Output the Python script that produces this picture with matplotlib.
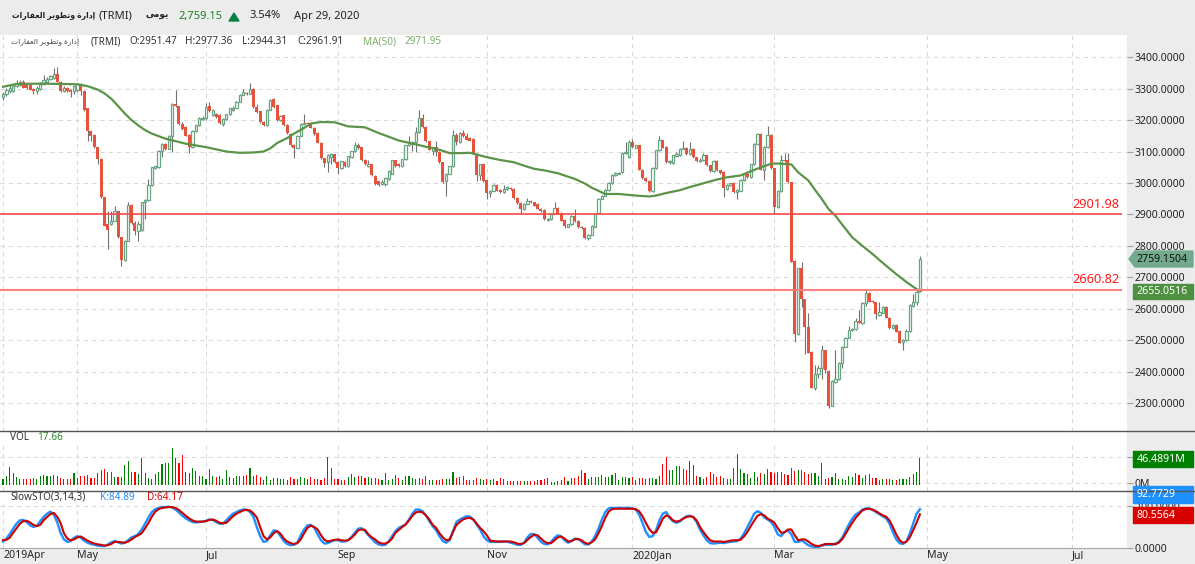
import matplotlib
matplotlib.use("Agg")
import matplotlib.pyplot as plt
from matplotlib.patches import Rectangle, Polygon

plt.rcParams['font.family'] = ['Noto Sans', 'DejaVu Sans']

# OHLC, one value per session
opens = [3272,3284,3293,3293,3308,3311,3322,3314,3311,3300,3293,3300,3316,3322,3331,3335,3346,3322,3293,3303,
         3297,3293,3297,3314,3293,3237,3165,3154,3114,3077,2955,2868,2868,2880,2912,2827,2755,2817,2931,2873,
         2846,2849,2939,2946,2992,3048,3050,3101,3125,3109,3151,3250,3244,3187,3178,3154,3114,3165,3183,3204,
         3208,3244,3215,3221,3215,3187,3203,3218,3231,3240,3258,3281,3286,3284,3300,3242,3228,3194,3183,3233,
         3267,3247,3199,3215,3185,3157,3122,3112,3151,3187,3191,3191,3176,3159,3128,3079,3066,3082,3091,3067,
         3047,3067,3054,3082,3101,3120,3114,3074,3054,3059,3022,3005,2996,2997,3013,3029,3072,3061,
         3054,3075,3120,3123,3130,3162,3208,3178,3133,3102,3114,3099,3066,3006,3029,3053,3154,3130,3160,3151,
         3144,3141,3093,3024,3059,3008,2969,2976,2994,2979,2971,2981,2985,2981,2953,2937,2916,2934,2944,2939,
         2934,2918,2914,2883,2885,2902,2921,2905,2882,2861,2868,2896,2880,2861,2857,2824,2835,2861,2904,2950,
         2960,2978,3000,3024,3029,3035,3095,3082,3130,3112,3120,3042,3016,3006,2974,3048,3104,3136,3116,3066,
         3063,3086,3088,3109,3112,3091,3109,3082,3070,3072,3088,3056,3037,3070,3040,3035,2981,2992,3000,2971,
         2976,3008,3029,3019,3059,3125,3157,3042,3114,3154,3047,2923,2974,3074,3072,
         3002,2753,2519,2729,2630,2542,2462,2349,2391,2410,2468,2402,2292,2368,2375,2428,2479,2508,2532,2535,
         2561,2554,2618,2651,2625,2621,2579,2588,2606,2572,2538,2548,2529,2493,2500,2529,2609,2620,2657]
closes = [3284,3297,3303,3308,3316,3322,3303,3303,3297,3293,3303,3316,3327,3332,3340,3346,3322,3293,3303,3293,
          3290,3308,3314,3293,3233,3165,3151,3114,3077,2955,2864,2851,2880,2912,2827,2756,2817,2931,2872,2846,
          2870,2939,2946,2995,3050,3053,3101,3125,3107,3151,3250,3244,3187,3173,3151,3114,3165,3183,3208,3208,
          3242,3228,3231,3210,3191,3205,3218,3237,3240,3258,3281,3290,3282,3300,3242,3226,3194,3183,3233,3265,
          3242,3199,3213,3183,3159,3120,3112,3151,3189,3191,3187,3176,3155,3128,3079,3064,3088,3093,3066,3047,
          3069,3054,3085,3101,3120,3111,3072,3059,3061,3024,2997,2995,3003,3016,3038,3072,3054,3053,
          3075,3120,3130,3130,3162,3208,3178,3133,3106,3114,3098,3066,3003,3029,3053,3154,3130,3160,3148,3138,
          3135,3093,3024,3059,3006,2968,2976,2994,2976,2971,2981,2987,2981,2952,2936,2916,2934,2942,2939,2928,
          2918,2910,2885,2885,2902,2921,2902,2880,2864,2868,2896,2878,2859,2856,2824,2836,2864,2904,2950,2960,
          2978,3000,3024,3031,3032,3096,3098,3130,3114,3120,3042,3015,3006,2974,3048,3104,3136,3112,3066,3070,
          3088,3093,3109,3112,3091,3109,3082,3070,3074,3088,3056,3038,3070,3040,3032,2985,2994,2999,2971,2978,
          3010,3029,3019,3059,3125,3157,3042,3116,3154,3047,2923,2976,3074,3070,3003,
          2750,2519,2729,2630,2543,2460,2349,2391,2412,2468,2404,2292,2370,2375,2428,2479,2508,2533,2535,2561,
          2556,2618,2651,2623,2620,2583,2590,2606,2572,2538,2548,2527,2492,2501,2529,2612,2620,2652,2759]
highs = [3290,3303,3311,3314,3329,3326,3326,3318,3314,3303,3308,3320,3343,3336,3343,3366,3369,3325,3308,3306,
         3300,3312,3318,3318,3296,3238,3167,3156,3116,3078,2956,2912,2912,2928,2914,2828,2819,2941,2933,2880,
         2878,2941,2948,3013,3052,3055,3105,3127,3128,3153,3254,3295,3246,3195,3180,3156,3167,3185,3210,3212,
         3255,3257,3234,3224,3218,3208,3220,3240,3244,3260,3283,3300,3290,3319,3302,3250,3230,3196,3235,3268,
         3270,3249,3215,3217,3187,3159,3124,3153,3191,3218,3195,3193,3178,3161,3130,3081,3092,3096,3093,3069,
         3071,3069,3087,3103,3130,3128,3116,3076,3073,3061,3024,3007,3010,3018,3040,3074,3074,3063,
         3077,3122,3151,3133,3178,3233,3218,3180,3135,3116,3133,3101,3068,3031,3055,3170,3160,3163,3170,3160,
         3147,3143,3095,3061,3061,3010,2979,2996,2996,2981,2995,2990,2988,2983,2955,2939,2936,2953,2947,2941,
         2936,2920,2916,2888,2905,2939,2923,2907,2884,2870,2898,2918,2882,2863,2859,2838,2866,2906,2952,2962,
         2980,3002,3030,3036,3036,3098,3130,3136,3141,3122,3122,3044,3018,3008,3050,3106,3151,3138,3118,3072,
         3090,3100,3111,3135,3114,3130,3111,3084,3078,3095,3090,3058,3072,3072,3042,3037,2996,3001,3002,2980,
         3012,3033,3031,3061,3127,3160,3159,3118,3180,3156,3049,2978,3090,3095,3096,
         3004,2755,2731,2749,2632,2587,2464,2420,2420,2485,2470,2404,2372,2469,2430,2481,2510,2545,2540,2570,
         2595,2620,2660,2653,2627,2623,2620,2608,2608,2574,2552,2550,2531,2503,2535,2614,2646,2665,2769]
lows = [3265,3278,3286,3288,3304,3308,3301,3300,3295,3282,3282,3297,3312,3318,3329,3332,3320,3290,3290,3290,
        3274,3284,3290,3279,3230,3134,3135,3112,3060,2953,2862,2790,2866,2878,2825,2737,2753,2815,2870,2835,
        2817,2847,2885,2944,2990,3046,3048,3082,3105,3107,3100,3242,3185,3170,3149,3095,3112,3163,3181,3200,
        3200,3226,3212,3208,3189,3180,3200,3216,3229,3238,3256,3279,3280,3282,3240,3224,3192,3181,3181,3231,
        3240,3197,3197,3181,3157,3118,3079,3110,3149,3185,3185,3174,3153,3126,3077,3050,3035,3060,3064,3029,
        3045,3052,3052,3080,3099,3109,3070,3057,3052,3022,2995,2990,2994,2990,3011,3027,3052,3051,
        3052,3073,3118,3102,3099,3160,3176,3131,3104,3090,3085,3064,3001,2960,3027,3051,3120,3128,3146,3136,
        3133,3091,3005,3008,3004,2950,2955,2974,2974,2969,2969,2979,2979,2950,2934,2900,2914,2932,2937,2926,
        2916,2908,2883,2880,2883,2900,2900,2878,2856,2859,2866,2876,2857,2854,2822,2818,2833,2859,2902,2948,
        2958,2976,2998,3022,3027,3033,3093,3080,3112,3110,3040,3013,3004,2972,2972,3046,3102,3110,3064,3060,
        3061,3084,3086,3107,3089,3089,3080,3068,3068,3070,3054,3036,3035,3038,3030,2957,2979,2990,2969,2950,
        2974,3006,3017,3017,3057,3123,3040,3010,3112,3045,2900,2921,2972,3068,3001,
        2748,2495,2517,2604,2455,2458,2347,2342,2380,2375,2395,2283,2290,2365,2373,2410,2477,2506,2530,2533,
        2554,2550,2610,2621,2618,2568,2577,2586,2570,2536,2536,2525,2490,2468,2498,2527,2607,2611,2655]

volume = [10.7,14.9,31,20.9,13.1,10.7,10.1,9.5,10.7,11.9,9.5,16.1,17.3,16.1,16.1,17.3,14.9,11.9,10.7,9.5,
          9.5,20.9,11.9,16.1,16.1,17.3,11.9,11.9,20.9,26.8,28,22.6,22.6,14.3,13.1,14.3,34.6,42.3,22,22.6,
          17.9,47.7,19.7,11.9,10.7,17.9,22.6,35.8,38.7,38.7,65.6,46.5,38.7,53,22.6,20.9,29.8,23.8,14.9,14.9,
          10.7,28.6,14.9,13.1,14.9,10.7,26.8,13.7,11.9,14.9,14.9,14.9,17.3,29.8,16.1,17.3,13.1,8.3,14.9,8.3,
          11.9,11.9,9.5,9.5,8.3,13.1,10.7,9.5,13.1,11.9,9.5,13.1,10.7,9.5,8.3,11.9,50,29.8,9.5,9.5,
          8.3,8.3,13.1,17.9,13.1,14.9,14.9,11.9,13.1,11.9,11.9,10.7,8.3,20.9,8.3,9.5,17.3,11.9,8.3,14.9,
          16.1,11.9,10.7,11.9,9.5,14.9,8.3,7.2,8.3,8.3,10.7,9.5,10.7,22.6,11.9,13.1,14.9,8.3,7.2,8.3,11.9,9.5,
          8.9,10.7,8.3,9.5,6,11.9,9.5,6.6,6.6,6.6,6.6,6.6,6.6,6.6,6.6,6.6,7.2,8.3,10.7,11.9,
          4.8,4.8,6.6,8.3,14.3,6.6,11.9,11.9,16.1,26.8,19.7,9.5,14.3,14.3,13.1,17.3,13.1,14.3,17.3,20.9,
          8.3,14.3,14.3,11.9,14.3,8.3,11.9,11.9,9.5,11.9,11.9,10.7,16.1,35.8,48.3,26.8,26.8,32.2,32.2,28.6,
          26.2,42.9,34,16.1,14.3,10.7,14.3,21.5,19.1,13.1,14.9,11.9,9.5,9.5,29.8,54.8,28,19.7,17.9,11.9,
          22.6,14.3,20.9,19.1,28,22.6,19.7,22.6,22.6,19.1,17.3,29.8,25,26.2,26.8,22.6,19.1,19.7,20.9,16.1,
          38.7,10.7,11.9,14.3,20.9,10.1,10.1,8.3,16.1,14.3,20.9,17.3,11.9,17.3,17.9,11.9,11.9,8.3,10.7,10.7,
          10.1,8.3,7.2,10.1,10.7,10.1,14.3,19.1,21.5,46.49]

sto_k = [15,22,33,46,58,66,67,62,54,50,53,64,74,82,87,80,62,36,20,14,16,24,28,24,17,12,9,7,5,4,
         4,8,13,16,13,10,12,18,25,28,33,44,58,73,86,93,96,98,98,99,97,92,85,77,71,66,62,61,62,63,
         65,68,67,62,58,58,66,75,82,86,90,92,92,86,75,50,28,14,16,30,42,40,28,16,9,6,7,12,30,44,
         54,55,48,32,18,10,11,15,18,18,15,15,18,26,36,46,47,40,30,22,13,8,6,7,15,28,40,48,52,56,
         68,82,92,92,88,78,64,52,42,28,16,12,18,40,62,68,72,76,75,68,56,44,
         28,18,14,14,14,14,15,15,12,10,7,7,12,25,33,33,24,14,9,8,14,24,30,27,18,12,16,22,21,15,
         8,8,15,28,46,68,86,95,96,96,96,96,96,96,95,92,80,60,38,26,28,42,66,82,86,72,64,60,63,70,
         76,77,74,62,44,30,18,11,10,11,12,11,13,14,15,16,22,34,50,65,82,88,84,73,68,62,50,32,28,38,
         42,32,14,14,18,12,6,3,2,2,5,7,7,7,10,14,24,40,56,70,80,85,92,95,95,91,86,81,76,71,
         58,38,20,11,9,15,34,58,82,92.77]
sto_d = [18,19,24,36,47,58,64,65,61,55,52,55,66,74,81,84,75,60,35,22,18,20,25,27,22,17,13,10,8,7,
         5,6,9,14,14,13,12,15,20,26,30,35,47,60,75,87,93,96,97,98,98,96,91,84,77,71,66,63,63,63,
         64,67,68,65,60,59,60,68,76,82,86,90,91,90,83,73,50,28,20,25,35,40,34,22,15,11,9,11,20,35,
         48,53,50,44,30,19,15,17,19,20,18,17,18,24,32,42,44,43,32,25,20,13,10,10,14,22,36,43,50,56,
         66,77,85,87,85,78,68,55,48,35,25,18,20,38,55,62,68,71,72,68,58,48,
         40,30,17,16,15,15,15,15,15,13,10,9,11,19,26,31,30,22,15,11,11,18,25,27,22,15,16,20,21,18,
         12,9,13,20,35,52,72,87,93,94,94,94,94,94,94,93,88,76,60,45,36,37,52,70,78,75,66,63,65,70,
         74,76,74,66,50,38,27,18,15,15,15,14,15,17,18,18,19,27,38,52,65,77,81,78,70,66,60,47,36,37,
         44,44,30,18,20,20,15,9,5,4,6,9,9,9,8,12,20,33,47,60,72,81,90,93,94,92,88,83,78,75,
         66,50,32,18,12,14,25,42,60,80.56]

# moving average, read at a subset of sessions
ma_idx = [0,4,12,22,25,28,30,32,34,36,38,40,42,44,46,48,54,60,66,70,74,77,79,81,84,86,89,91,94,98,
          102,107,111,117,122,125,128,132,135,138,143,147,151,154,157,160,164,167,169,172,174,176,178,182,187,191,193,196,200,203,
          207,211,214,218,221,224,227,229,233,235,238,240,242,244,246,248,251,254,257,260,264,267,271]
ma_vals = [3306,3315,3316,3314,3308,3297,3285,3268,3245,3221,3200,3183,3168,3157,3149,3141,3125,3114,3100,3096,3097,3100,3110,3127,3143,3157,3175,3189,3194,3193,
           3180,3177,3159,3135,3123,3115,3109,3095,3095,3096,3082,3073,3066,3055,3045,3040,3031,3020,3013,2998,2985,2975,2965,2965,2960,2957,2960,2968,2977,2987,
           2999,3011,3018,3024,3037,3050,3061,3062,3059,3034,3008,2978,2949,2917,2896,2868,2827,2800,2774,2746,2710,2685,2655]

level_lines = [2901.98, 2660.82]
price_ticks = [3400,3300,3200,3100,3000,2900,2800,2700,2600,2500,2400,2300]
date_ticks = [0,22,60,99,143,186,228,273,316]
date_labels = ["2019Apr","May","Jul","Sep","Nov","2020Jan","Mar","May","Jul"]

W, H = 1195, 564
PLOT_R = 1127
BG = "#ececec"
GRID = "#d9d9d9"
UP = "#6aa583"
DOWN = "#e5533d"
TXT = "#222222"

def panel(top, bottom):
    return fig.add_axes([0, 1 - bottom / H, PLOT_R / W, (bottom - top) / H])

def style_panel(ax):
    ax.set_facecolor("white")
    ax.set_xlim(-0.887, 332.2)
    for s in ax.spines.values():
        s.set_visible(False)
    ax.yaxis.tick_right()
    ax.tick_params(axis="y", length=4.5, width=0.8, color="#a0a0a0", labelsize=7.5, labelcolor=TXT, pad=1)
    ax.set_xticks(date_ticks)
    ax.tick_params(axis="x", length=0, labelbottom=False)

def grid_h(ax, ticks):
    for t in ticks:
        ax.axhline(t, color=GRID, lw=0.75, ls=(0, (4, 4)), zorder=0)

def grid_v(ax, upto=1.0):
    for t in date_ticks:
        ax.axvline(t, ymax=upto, color=GRID, lw=0.75, ls=(0, (4, 4)), zorder=0)

fig = plt.figure(figsize=(W / 100, H / 100), dpi=100, facecolor=BG)

n = len(closes)
idx = list(range(n))
is_up = [c >= o for o, c in zip(opens, closes)]

# main price panel
ax = panel(35, 430.5)
style_panel(ax)
ax.set_ylim(2212.7, 3470.7)
ax.set_yticks(price_ticks)
ax.set_yticklabels([f"{p:.4f}" for p in price_ticks])
grid_h(ax, price_ticks)
grid_v(ax)
ax.vlines(idx, lows, highs, color="#707070", lw=0.8, zorder=2)
up_x = [i for i in idx if is_up[i]]
down_x = [i for i in idx if not is_up[i]]
ax.bar(up_x, [closes[i] - opens[i] for i in up_x], bottom=[opens[i] for i in up_x], width=0.7,
       facecolor="white", edgecolor=UP, lw=0.9, zorder=3)
ax.bar(down_x, [closes[i] - opens[i] for i in down_x], bottom=[opens[i] for i in down_x], width=0.88,
       color=DOWN, lw=0, zorder=3)
ax.plot(ma_idx, ma_vals, color="#5b9449", lw=1.6, zorder=4)
ax.hlines(level_lines[0], -0.887, 330.8, color="#ff4a4a", lw=1.2, zorder=5)
ax.hlines(level_lines[1], -0.887, 330.8, color="#ff8080", lw=1.5, zorder=5)
for lv, off in zip(level_lines, [8, 10]):
    ax.text(330.0, lv + off, f"{lv:.2f}", color="#ff1a1a", fontsize=9.2, ha="right", va="bottom", zorder=6)

# volume panel
vax = panel(430.5, 490.5)
style_panel(vax)
vax.set_ylim(-10.7, 96.5)
vax.set_yticks([2.98, 48.8])
vax.set_yticklabels(["0M", ""])
grid_h(vax, [2.98, 48.8])
grid_v(vax, 0.78)
vol_colors = ["#008000" if u else "#ff0000" for u in is_up]
vax.bar(idx, volume, width=0.33, color=vol_colors, lw=0, zorder=3)

# stochastic panel
sax = panel(490.5, 547.7)
style_panel(sax)
sax.set_ylim(0, 138)
sax.set_yticks([0, 100])
sax.set_yticklabels(["0.0000", "100.0000"])
grid_h(sax, [100])
grid_v(sax, 0.76)
sax.plot(idx, sto_k, color="#1e90ff", lw=1.7, zorder=3, clip_on=False)
sax.plot(idx, sto_d, color="#cc0000", lw=1.5, zorder=4, clip_on=False)
sax.set_xticks(date_ticks)
sax.set_xticklabels(date_labels, ha="left", fontsize=7.6, color=TXT)
sax.tick_params(axis="x", length=0, labelbottom=True, pad=2)
sax.spines["bottom"].set_visible(True)
sax.spines["bottom"].set_color("#a8a8a8")

# overlay in pixel coordinates for header, separators and value tags
ov = fig.add_axes([0, 0, 1, 1], zorder=10)
ov.set_xlim(0, W)
ov.set_ylim(H, 0)
ov.axis("off")
ov.patch.set_alpha(0)

ov.plot([0, W], [430.5, 430.5], color="#555555", lw=1)
ov.plot([0, W], [490.5, 490.5], color="#555555", lw=1)

name_ar = "\uFE95\uFE8D\uFEAD\uFE8E\uFED4\uFECC\uFEDF\uFE8D \uFEAE\uFEF3\uFEEE\uFEC4\uFE97\uFEED \uFE93\uFEAD\uFE8D\uFEA9\uFE87"
daily_ar = "\uFEF0\uFEE3\uFEEE\uFEF3"

ov.text(12, 16, name_ar, fontsize=5.5, color="#222222", va="center", fontweight="bold")
ov.text(99, 16, "(TRMI)", fontsize=8.0, color=TXT, va="center")
ov.text(146, 16, daily_ar, fontsize=6.4, color="#222222", va="center", fontweight="bold")
ov.text(178, 16, "2,759.15", fontsize=8.0, color="#1a7f1a", va="center")
ov.add_patch(Polygon([[229, 21], [239, 21], [234, 13]], closed=True, color="#0a8043"))
ov.text(250, 16, "3.54%", fontsize=8.0, color=TXT, va="center")
ov.text(294, 16, "Apr 29, 2020", fontsize=8.0, color=TXT, va="center")

ov.text(11, 41.5, name_ar, fontsize=5.4, color="#444444", va="center")
ov.text(91, 41.5, "(TRMI)", fontsize=7.2, color="#333333", va="center")
ov.text(129, 41.5, "O:2951.47", fontsize=7.2, color="#333333", va="center")
ov.text(185, 41.5, "H:2977.36", fontsize=7.2, color="#333333", va="center")
ov.text(242, 41.5, "L:2944.31", fontsize=7.2, color="#333333", va="center")
ov.text(297, 41.5, "C:2961.91", fontsize=7.2, color="#333333", va="center")
ov.text(363, 41.5, "MA(50)", fontsize=7.2, color="#7fae6a", va="center")
ov.text(405, 41.5, "2971.95", fontsize=7.2, color="#7fae6a", va="center")

ov.text(10, 437.5, "VOL", fontsize=7.2, color="#333333", va="center")
ov.text(37, 437.5, "17.66", fontsize=7.2, color="#2a8a2a", va="center")
ov.text(10, 497, "SlowSTO(3,14,3)", fontsize=7.2, color="#333333", va="center")
ov.text(100, 497.5, "K:84.89", fontsize=7.2, color="#1e90ff", va="center")
ov.text(147, 497.5, "D:64.17", fontsize=7.2, color="#dd0000", va="center")

# price tags on the right axis
ov.add_patch(Polygon([[1129, 259], [1135, 251], [1193, 251], [1193, 267], [1135, 267]], closed=True, color="#72aa8d"))
ov.text(1137, 259, "2759.1504", fontsize=7.6, color="#111111", va="center")
tags = [(284, 298.5, "#4d9040", "2655.0516"),
        (451, 467, "#008000", "46.4891M"),
        (486, 503, "#1e90ff", "92.7729"),
        (507, 523, "#d90000", "80.5564")]
for top, bot, col, label in tags:
    ov.add_patch(Rectangle((1133, top), 60, bot - top, color=col))
    ov.text(1137, (top + bot) / 2, label, fontsize=7.6, color="white", va="center")

fig.savefig("out.png", dpi=100, facecolor=BG)
